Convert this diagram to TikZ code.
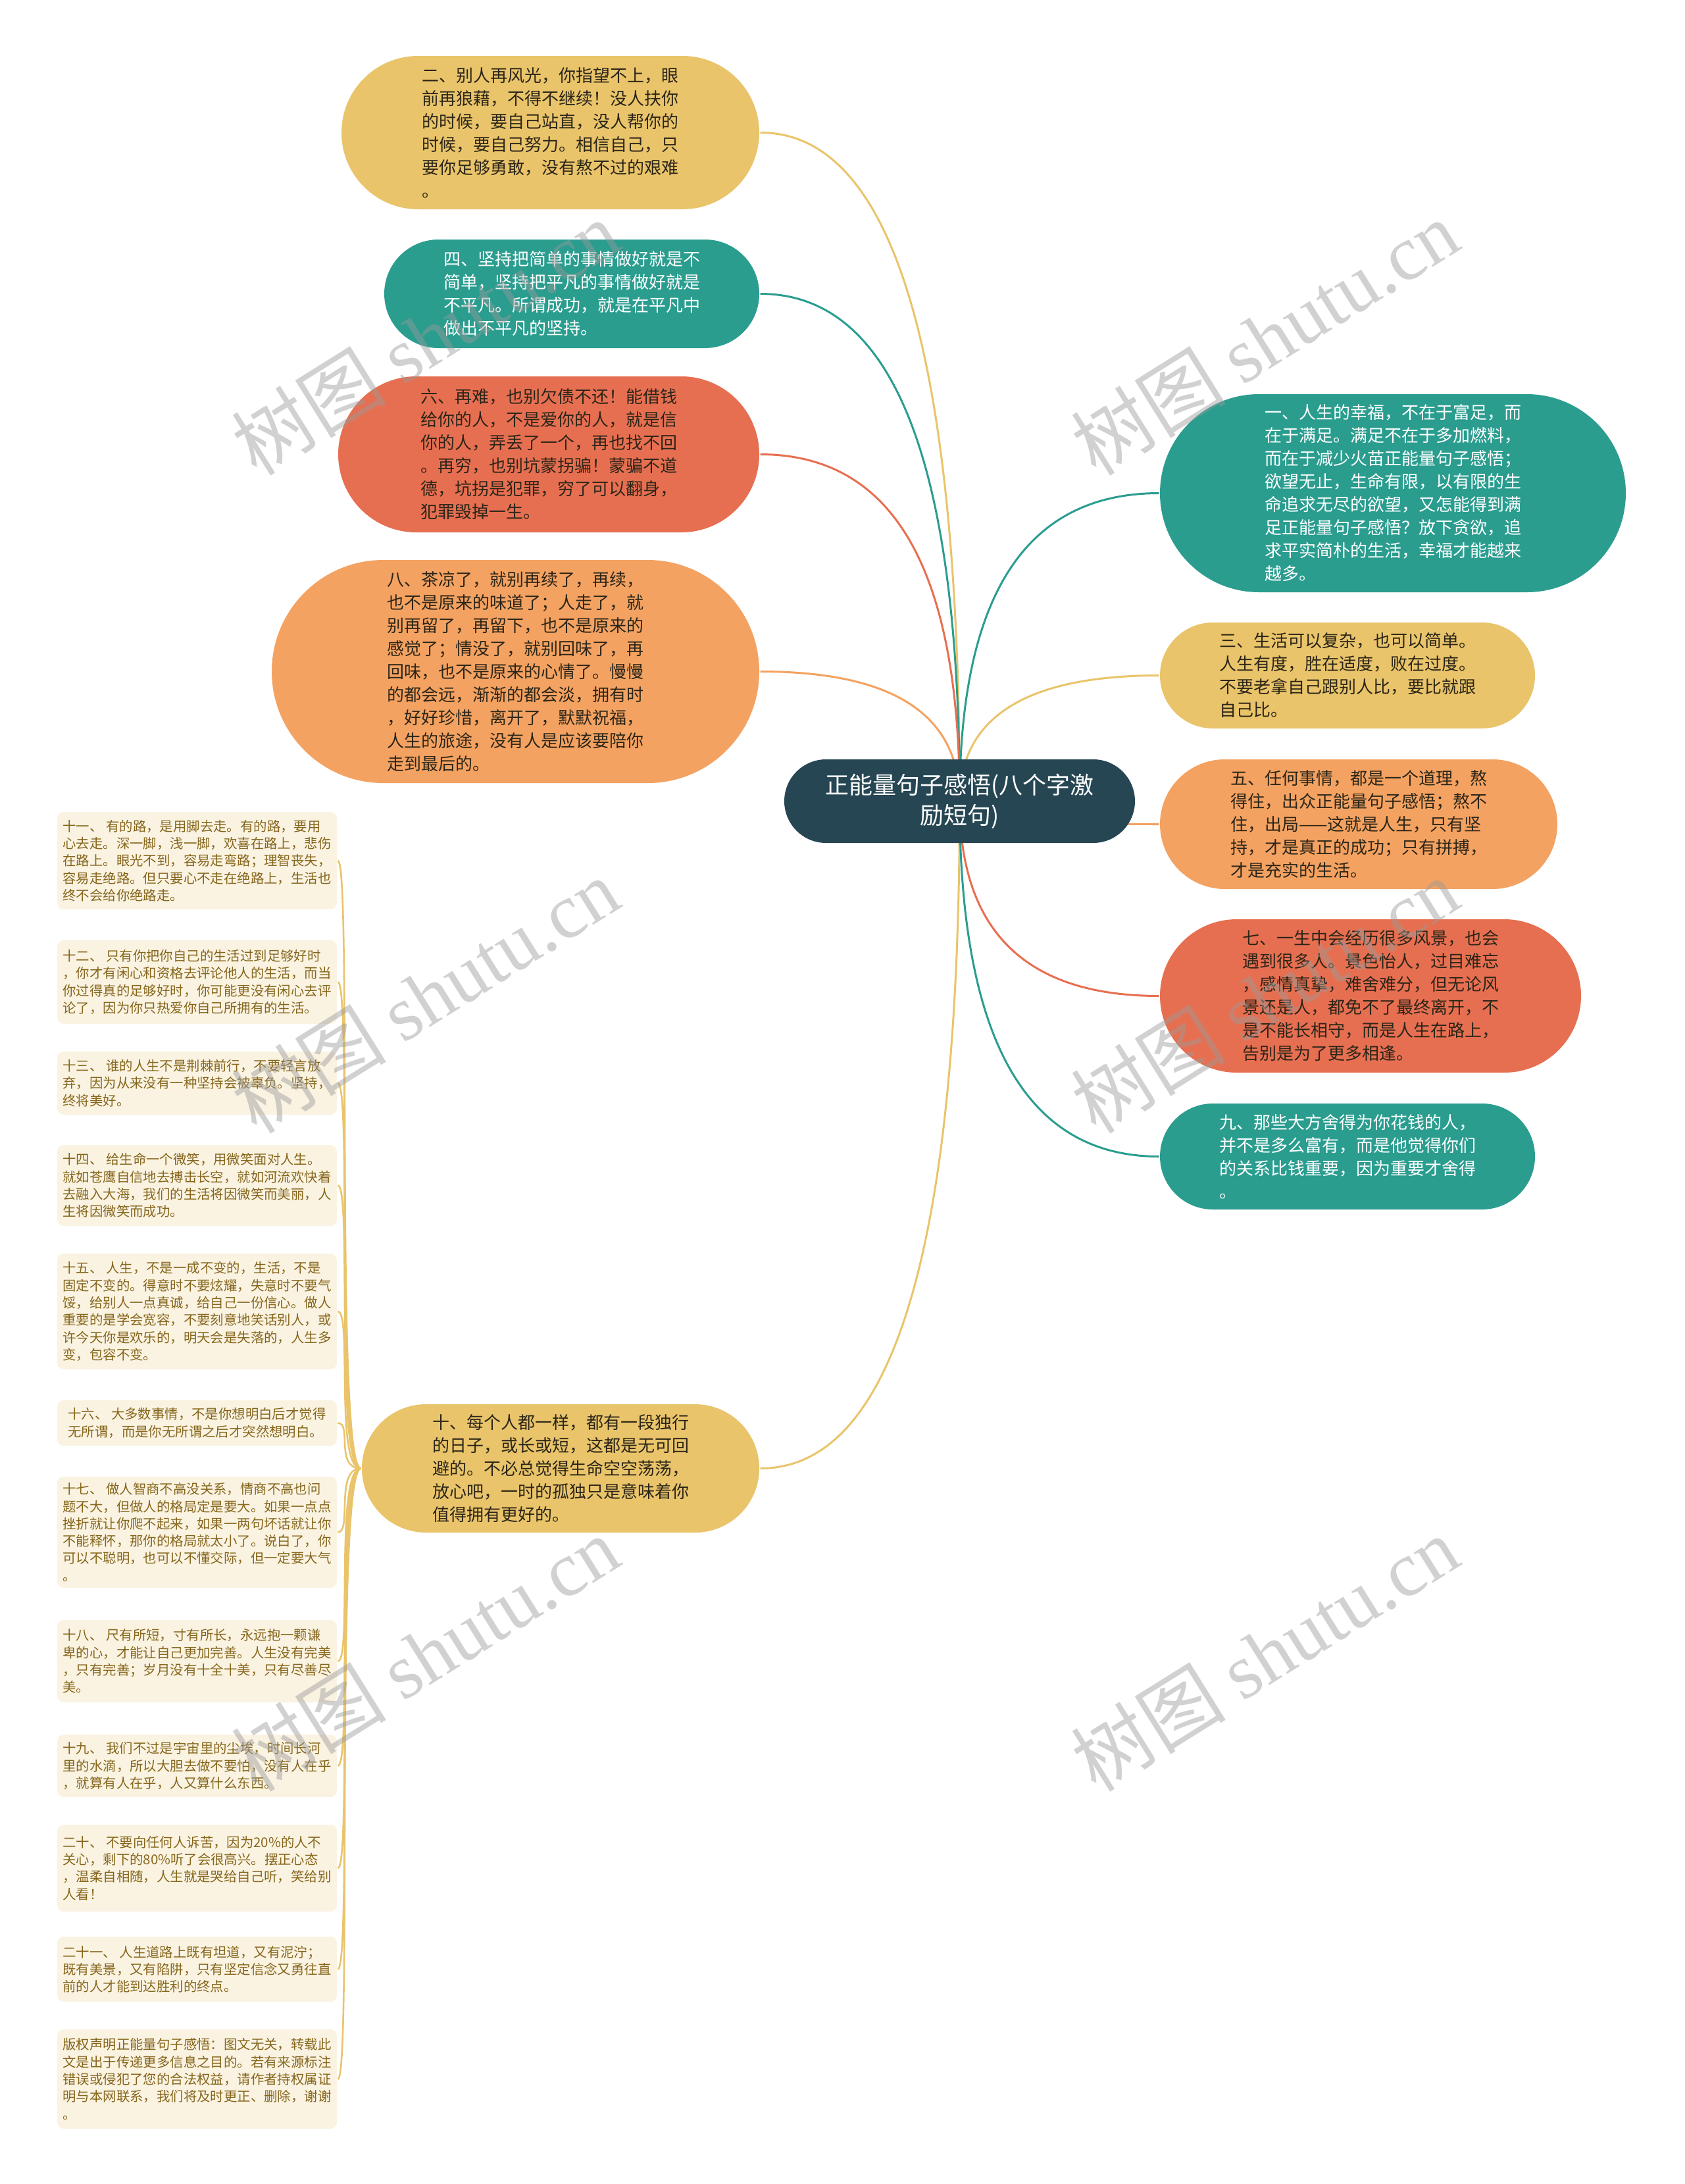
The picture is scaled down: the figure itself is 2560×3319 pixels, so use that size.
\documentclass[tikz,border=0pt]{standalone}
\usepackage{fontspec}
\setmainfont{Noto Sans CJK SC}
\newfontfamily\wmfont{Liberation Serif}
\usepackage{tikz}
\usetikzlibrary{shapes.misc,backgrounds}

\definecolor{cHub}{HTML}{264653}
\definecolor{cTeal}{HTML}{2A9D8F}
\definecolor{cSand}{HTML}{E9C46A}
\definecolor{cPeach}{HTML}{F4A261}
\definecolor{cCoral}{HTML}{E76F51}
\definecolor{leafbg}{HTML}{FAF3E2}
\definecolor{leafink}{HTML}{86661C}
\definecolor{ink}{HTML}{2B2518}
\definecolor{wmgray}{HTML}{9A9A9A}

\begin{document}
\begin{tikzpicture}[x=1pt,y=-1pt,line width=3pt]
\tikzset{branch/.style={rounded rectangle,inner sep=0pt,align=left,text=ink,font=\fontsize{26}{35}\selectfont},
  leaf/.style={rectangle,rounded corners=10pt,fill=leafbg,inner sep=0pt,minimum width=425pt,align=left,text=leafink,font=\fontsize{20.4}{26.3}\selectfont},
  link/.style={line width=3pt},
  twig/.style={line width=2.6pt,draw=cSand},
  wmark/.style={rotate=32,text=wmgray,opacity=.45,font=\fontsize{118}{118}\selectfont}}
\useasboundingbox (0,0) rectangle (2560,3319);

% ---------- 中心 ----------
\node[branch,fill=cHub,text=white,align=center,font=\fontsize{36}{46}\selectfont,minimum width=533pt,minimum height=127pt] (C) at (1458.5,1217.5) {正能量句子感悟(八个字激\\励短句)};

% ---------- 左侧 ----------
\node[branch,fill=cSand,minimum width=635pt,minimum height=233pt] (B2) at (836.5,201.5) {二、别人再风光，你指望不上，眼\\前再狼藉，不得不继续！没人扶你\\的时候，要自己站直，没人帮你的\\时候，要自己努力。相信自己，只\\要你足够勇敢，没有熬不过的艰难\\。};
\node[branch,fill=cTeal,text=white,minimum width=570pt,minimum height=165pt] (B4) at (869,446.5) {四、坚持把简单的事情做好就是不\\简单，坚持把平凡的事情做好就是\\不平凡。所谓成功，就是在平凡中\\做出不平凡的坚持。};
\node[branch,fill=cCoral,minimum width=640pt,minimum height=237pt] (B6) at (834,690.5) {六、再难，也别欠债不还！能借钱\\给你的人，不是爱你的人，就是信\\你的人，弄丢了一个，再也找不回\\。再穷，也别坑蒙拐骗！蒙骗不道\\德，坑拐是犯罪，穷了可以翻身，\\犯罪毁掉一生。};
\node[branch,fill=cPeach,minimum width=741pt,minimum height=339pt] (B8) at (783.5,1020.5) {八、茶凉了，就别再续了，再续，\\也不是原来的味道了；人走了，就\\别再留了，再留下，也不是原来的\\感觉了；情没了，就别回味了，再\\回味，也不是原来的心情了。慢慢\\的都会远，渐渐的都会淡，拥有时\\，好好珍惜，离开了，默默祝福，\\人生的旅途，没有人是应该要陪你\\走到最后的。};
\node[branch,fill=cSand,minimum width=604pt,minimum height=195pt] (B10) at (852,2231.5) {十、每个人都一样，都有一段独行\\的日子，或长或短，这都是无可回\\避的。不必总觉得生命空空荡荡，\\放心吧，一时的孤独只是意味着你\\值得拥有更好的。};

% ---------- 右侧 ----------
\node[branch,fill=cTeal,text=white,minimum width=708pt,minimum height=301pt] (B1) at (2117,749.5) {一、人生的幸福，不在于富足，而\\在于满足。满足不在于多加燃料，\\而在于减少火苗正能量句子感悟；\\欲望无止，生命有限，以有限的生\\命追求无尽的欲望，又怎能得到满\\足正能量句子感悟？放下贪欲，追\\求平实简朴的生活，幸福才能越来\\越多。};
\node[branch,fill=cSand,minimum width=570pt,minimum height=161pt] (B3) at (2048,1026.5) {三、生活可以复杂，也可以简单。\\人生有度，胜在适度，败在过度。\\不要老拿自己跟别人比，要比就跟\\自己比。};
\node[branch,fill=cPeach,minimum width=604pt,minimum height=197pt] (B5) at (2065,1252.5) {五、任何事情，都是一个道理，熬\\得住，出众正能量句子感悟；熬不\\住，出局——这就是人生，只有坚\\持，才是真正的成功；只有拼搏，\\才是充实的生活。};
\node[branch,fill=cCoral,minimum width=640pt,minimum height=233pt] (B7) at (2083,1513.5) {七、一生中会经历很多风景，也会\\遇到很多人。景色怡人，过目难忘\\，感情真挚，难舍难分，但无论风\\景还是人，都免不了最终离开，不\\是不能长相守，而是人生在路上，\\告别是为了更多相逢。};
\node[branch,fill=cTeal,text=white,minimum width=570pt,minimum height=161pt] (B9) at (2048,1757.5) {九、那些大方舍得为你花钱的人，\\并不是多么富有，而是他觉得你们\\的关系比钱重要，因为重要才舍得\\。};

% ---------- 十的分支 ----------
\node[leaf,minimum height=148pt] (L11) at (299.5,1308) {十一、 有的路，是用脚去走。有的路，要用\\心去走。深一脚，浅一脚，欢喜在路上，悲伤\\在路上。眼光不到，容易走弯路；理智丧失，\\容易走绝路。但只要心不走在绝路上，生活也\\终不会给你绝路走。};
\node[leaf,minimum height=127pt] (L12) at (299.5,1492.5) {十二、 只有你把你自己的生活过到足够好时\\，你才有闲心和资格去评论他人的生活，而当\\你过得真的足够好时，你可能更没有闲心去评\\论了，因为你只热爱你自己所拥有的生活。};
\node[leaf,minimum height=96pt] (L13) at (299.5,1646) {十三、 谁的人生不是荆棘前行，不要轻言放\\弃，因为从来没有一种坚持会被辜负。坚持，\\终将美好。};
\node[leaf,minimum height=123pt] (L14) at (299.5,1801.5) {十四、 给生命一个微笑，用微笑面对人生。\\就如苍鹰自信地去搏击长空，就如河流欢快着\\去融入大海，我们的生活将因微笑而美丽，人\\生将因微笑而成功。};
\node[leaf,minimum height=176pt] (L15) at (299.5,1993) {十五、 人生，不是一成不变的，生活，不是\\固定不变的。得意时不要炫耀，失意时不要气\\馁，给别人一点真诚，给自己一份信心。做人\\重要的是学会宽容，不要刻意地笑话别人，或\\许今天你是欢乐的，明天会是失落的，人生多\\变，包容不变。};
\node[leaf,minimum height=69pt] (L16) at (299.5,2162.5) {十六、 大多数事情，不是你想明白后才觉得\\无所谓，而是你无所谓之后才突然想明白。};
\node[leaf,minimum height=169pt] (L17) at (299.5,2328.5) {十七、 做人智商不高没关系，情商不高也问\\题不大，但做人的格局定是要大。如果一点点\\挫折就让你爬不起来，如果一两句坏话就让你\\不能释怀，那你的格局就太小了。说白了，你\\可以不聪明，也可以不懂交际，但一定要大气\\。};
\node[leaf,minimum height=125pt] (L18) at (299.5,2524.5) {十八、 尺有所短，寸有所长，永远抱一颗谦\\卑的心，才能让自己更加完善。人生没有完美\\，只有完善；岁月没有十全十美，只有尽善尽\\美。};
\node[leaf,minimum height=95pt] (L19) at (299.5,2683.5) {十九、 我们不过是宇宙里的尘埃，时间长河\\里的水滴，所以大胆去做不要怕，没有人在乎\\，就算有人在乎，人又算什么东西。};
\node[leaf,minimum height=132pt] (L20) at (299.5,2839) {二十、 不要向任何人诉苦，因为20\%的人不\\关心，剩下的80\%听了会很高兴。摆正心态\\，温柔自相随，人生就是哭给自己听，笑给别\\人看！};
\node[leaf,minimum height=99pt] (L21) at (299.5,2992.5) {二十一、 人生道路上既有坦道，又有泥泞；\\既有美景，又有陷阱，只有坚定信念又勇往直\\前的人才能到达胜利的终点。};
\node[leaf,minimum height=151pt] (L22) at (299.5,3159.5) {版权声明正能量句子感悟：图文无关，转载此\\文是出于传递更多信息之目的。若有来源标注\\错误或侵犯了您的合法权益，请作者持权属证\\明与本网联系，我们将及时更正、删除，谢谢\\。};

% ---------- 连线 ----------
\begin{scope}[on background layer]
\fill[white] (0,0) rectangle (2560,3319);
\draw[link,draw=cSand] (C.center) .. controls +(0,-677) and +(203,0) .. (B2.east);
\draw[link,draw=cTeal] (C.center) .. controls +(0,-514) and +(203,0) .. (B4.east);
\draw[link,draw=cCoral] (C.center) .. controls +(0,-351) and +(203,0) .. (B6.east);
\draw[link,draw=cPeach] (C.center) .. controls +(0,-131) and +(203,0) .. (B8.east);
\draw[link,draw=cSand] (C.center) .. controls +(0,676) and +(203,0) .. (B10.east);
\draw[link,draw=cTeal] (C.center) .. controls +(0,-312) and +(-203,0) .. (B1.west);
\draw[link,draw=cSand] (C.center) .. controls +(0,-127) and +(-203,0) .. (B3.west);
\draw[link,draw=cPeach] (C.center) .. controls +(0,23) and +(-203,0) .. (B5.west);
\draw[link,draw=cCoral] (C.center) .. controls +(0,197) and +(-203,0) .. (B7.west);
\draw[link,draw=cTeal] (C.center) .. controls +(0,360) and +(-203,0) .. (B9.west);

\draw[twig] (B10.west) .. controls +(-40,0) and +(22,0) .. (L11.east);
\draw[twig] (B10.west) .. controls +(-40,0) and +(22,0) .. (L12.east);
\draw[twig] (B10.west) .. controls +(-40,0) and +(22,0) .. (L13.east);
\draw[twig] (B10.west) .. controls +(-40,0) and +(22,0) .. (L14.east);
\draw[twig] (B10.west) .. controls +(-40,0) and +(22,0) .. (L15.east);
\draw[twig] (B10.west) .. controls +(-40,0) and +(22,0) .. (L16.east);
\draw[twig] (B10.west) .. controls +(-40,0) and +(22,0) .. (L17.east);
\draw[twig] (B10.west) .. controls +(-40,0) and +(22,0) .. (L18.east);
\draw[twig] (B10.west) .. controls +(-40,0) and +(22,0) .. (L19.east);
\draw[twig] (B10.west) .. controls +(-40,0) and +(22,0) .. (L20.east);
\draw[twig] (B10.west) .. controls +(-40,0) and +(22,0) .. (L21.east);
\draw[twig] (B10.west) .. controls +(-40,0) and +(22,0) .. (L22.east);
\end{scope}

% ---------- 水印 ----------
\node[wmark] (W1) at (646,513) {树图 {\wmfont shutu.cn}};
\node[wmark] (W2) at (1922,513) {树图 {\wmfont shutu.cn}};
\node[wmark] (W3) at (646,1513) {树图 {\wmfont shutu.cn}};
\node[wmark] (W4) at (1922,1513) {树图 {\wmfont shutu.cn}};
\node[wmark] (W5) at (646,2513) {树图 {\wmfont shutu.cn}};
\node[wmark] (W6) at (1922,2513) {树图 {\wmfont shutu.cn}};

\end{tikzpicture}
\end{document}
